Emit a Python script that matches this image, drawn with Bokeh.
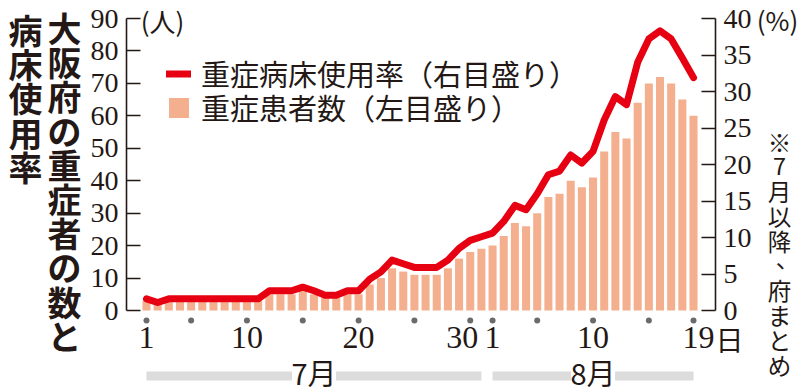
from bokeh.plotting import figure
from bokeh.models import (Range1d, LinearAxis, FixedTicker, Legend,
                          LegendItem, ColumnDataSource)
from bokeh.core.properties import value
from bokeh.embed import file_html
from bokeh.resources import INLINE

# ---------------- data ----------------
jul_days = list(range(1, 32))
aug_days = list(range(1, 20))
patients_jul = [3, 2, 3, 3, 3, 3, 3, 3, 3, 3, 3, 5, 5, 5, 6, 5, 4, 4, 5, 5,
                8, 10, 13, 12, 11, 11, 11, 13, 16, 18, 19]
patients_aug = [20, 23, 27, 26, 30, 35, 36, 40, 38, 41, 49, 55, 53, 64, 70,
                72, 70, 65, 60]
rate_jul = [1.6, 1.1, 1.6, 1.6, 1.6, 1.6, 1.6, 1.6, 1.6, 1.6, 1.6, 2.7, 2.7,
            2.7, 3.2, 2.7, 2.1, 2.1, 2.7, 2.7, 4.3, 5.3, 6.9, 6.4, 5.9, 5.9,
            5.9, 6.9, 8.5, 9.6, 10.1]
rate_aug = [10.6, 12.2, 14.4, 13.8, 16.0, 18.6, 19.1, 21.3, 20.2, 21.8, 26.1,
            29.3, 28.2, 34.0, 37.2, 38.3, 37.2, 34.6, 31.9]
labeled_jul = [1, 10, 20, 30]
labeled_aug = [1, 10, 19]
dotted_jul = [1, 5, 10, 15, 20, 25, 30]
dotted_aug = [1, 5, 10, 15, 19]
months = ["7月", "8月"]
left_ticks = list(range(0, 91, 10))
right_ticks = list(range(0, 41, 5))
legend_line = "重症病床使用率（右目盛り）"
legend_bar = "重症患者数（左目盛り）"
title_a = "病床使用率"
title_b = "大阪府の重症者の数と"
note = "※7月以降、府まとめ"
day_suffix = "日"
unit_left = "(人)"
unit_right = "(%)"

# ---------------- helpers ----------------
def jul_i(d):
    return d - 1

def aug_i(d):
    return len(jul_days) + d - 1

idx = [jul_i(d) for d in jul_days] + [aug_i(d) for d in aug_days]
src = ColumnDataSource(dict(idx=idx, patients=patients_jul + patients_aug,
                            rate=rate_jul + rate_aug))

JP = "Noto Sans CJK JP"
NUM = "Liberation Sans Narrow"
INK = "#231815"
BAR = "#F4B08E"
RED = "#E60012"

W, H = 800, 391
FL, FR, FT, F0 = 126, 715, 18, 310   # axis x positions, top and zero (px)
LMAX, RMAX = 90, 40
PX_PER = (F0 - FT) / LMAX            # px per patient
XS, XE = -1.79, 50.97                # day index at the two axes
PX_X = (FR - FL) / (XE - XS)

def dx(px):
    return XS + (px - FL) / PX_X

def dy(py):
    return (F0 - py) / PX_PER

p = figure(width=W, height=H, output_backend="svg", toolbar_location=None,
           x_range=Range1d(dx(0), dx(W)), y_range=Range1d(dy(H), dy(0)),
           x_axis_location=None, y_axis_location=None, min_border=0,
           outline_line_color=None, background_fill_color="white",
           border_fill_color="white")
p.xgrid.visible = False
p.ygrid.visible = False
p.extra_y_ranges = {"pct": Range1d(dy(H) * RMAX / LMAX, dy(0) * RMAX / LMAX)}

def style_axis(ax):
    ax.axis_line_color = INK
    ax.axis_line_width = 1.6
    ax.major_tick_line_color = INK
    ax.major_tick_line_width = 1.6
    ax.major_tick_in = 14
    ax.major_tick_out = 0
    ax.minor_tick_line_color = None
    ax.major_label_text_font = NUM
    ax.major_label_text_font_size = "28px"
    ax.major_label_text_color = INK
    ax.major_label_standoff = 8

yl = LinearAxis(ticker=FixedTicker(ticks=left_ticks), bounds=(0, LMAX),
                fixed_location=dx(FL))
style_axis(yl)
p.add_layout(yl, "left")
yr = LinearAxis(y_range_name="pct", ticker=FixedTicker(ticks=right_ticks),
                bounds=(0, RMAX), fixed_location=dx(FR))
style_axis(yr)
p.add_layout(yr, "right")

bar_r = p.vbar(x="idx", top="patients", width=0.72, source=src,
               fill_color=BAR, line_color=None)
line_r = p.line(x="idx", y="rate", source=src, y_range_name="pct",
                line_color=RED, line_width=7, line_join="round",
                line_cap="round")

# day dots, day labels
dot_idx = [jul_i(d) for d in dotted_jul] + [aug_i(d) for d in dotted_aug]
p.scatter(x=dot_idx, y=[dy(320)] * len(dot_idx), size=6, color="#6b6b6b",
          line_color=None)
lab_idx = [jul_i(d) for d in labeled_jul] + [aug_i(d) for d in labeled_aug]
lab_txt = [str(d) for d in labeled_jul] + [str(d) for d in labeled_aug]
nudge = [0] * len(lab_idx)
nudge[len(labeled_jul) - 1] = -8     # "30" pushed left of its dot
nudge[-1] = 5                        # "19" pushed right
p.text(x=lab_idx, y=[dy(337)] * len(lab_idx), text=lab_txt,
       x_offset=nudge, text_font=value(NUM), text_font_size=value("32px"),
       text_color=INK, text_align="center", text_baseline="middle")
p.text(x=[lab_idx[-1]], y=[dy(338)], text=[day_suffix], x_offset=[22],
       text_font=value(JP), text_font_size=value("28px"), text_color=INK,
       text_align="left", text_baseline="middle")

# month bars
m_first = [jul_i(jul_days[0]), aug_i(aug_days[0])]
m_last = [jul_i(jul_days[-1]), aug_i(aug_days[-1])]
m_mid = [(a + c) / 2 for a, c in zip(m_first, m_last)]
p.quad(left=m_first, right=m_last, top=[dy(371)] * 2, bottom=[dy(380)] * 2,
       fill_color="#DCDCDC", line_color=None)
p.rect(x=m_mid, y=[dy(375.5)] * 2, width=44, height=14, width_units="screen",
       height_units="screen", fill_color="white", line_color=None)
p.text(x=m_mid, y=[dy(371)] * 2, text=months, text_font=value(JP),
       text_font_size=value("29px"), text_color=INK, text_align="center",
       text_baseline="middle")

# legends (one item each, positioned separately)
def one_legend(label, r, center_py):
    return Legend(items=[LegendItem(label=label, renderers=[r])],
                  location=(166, H - center_py - 20.4), orientation="vertical",
                  background_fill_alpha=0, border_line_alpha=0, padding=0,
                  margin=0, spacing=0, glyph_width=25, glyph_height=25,
                  label_standoff=10, label_height=25,
                  label_text_font=JP, label_text_font_size="29px",
                  label_text_color=INK)

p.add_layout(one_legend(legend_line, line_r, 74))
p.add_layout(one_legend(legend_bar, bar_r, 108))

# unit labels
p.text(x=[dx(162)], y=[dy(20)], text=[unit_left], text_font=value(JP),
       text_font_size=value("26px"), text_color=INK, text_align="center",
       text_baseline="middle")
p.text(x=[dx(777)], y=[dy(19)], text=[unit_right], text_font=value(JP),
       text_font_size=value("26px"), text_color=INK, text_align="center",
       text_baseline="middle")

# vertical texts, one character per line
def vertical(text, cx, cy0, pitch, size, bold):
    xs, ys = [], []
    for k, ch in enumerate(text):
        ox, oy = (8, -8) if ch == "、" else (0, 0)
        xs.append(dx(cx + ox))
        ys.append(dy(cy0 + k * pitch + oy))
    p.text(x=xs, y=ys, text=list(text), text_font=value(JP),
           text_font_style="bold" if bold else "normal",
           text_font_size=value(size), text_color=INK,
           text_align="center", text_baseline="middle")

vertical(title_a, 25, 29, 34.2, "34px", True)
vertical(title_b, 64, 27, 34.2, "34px", True)
vertical(note, 779, 141, 24.8, "23.5px", False)

open("out.html", "w").write(file_html(p, INLINE))
